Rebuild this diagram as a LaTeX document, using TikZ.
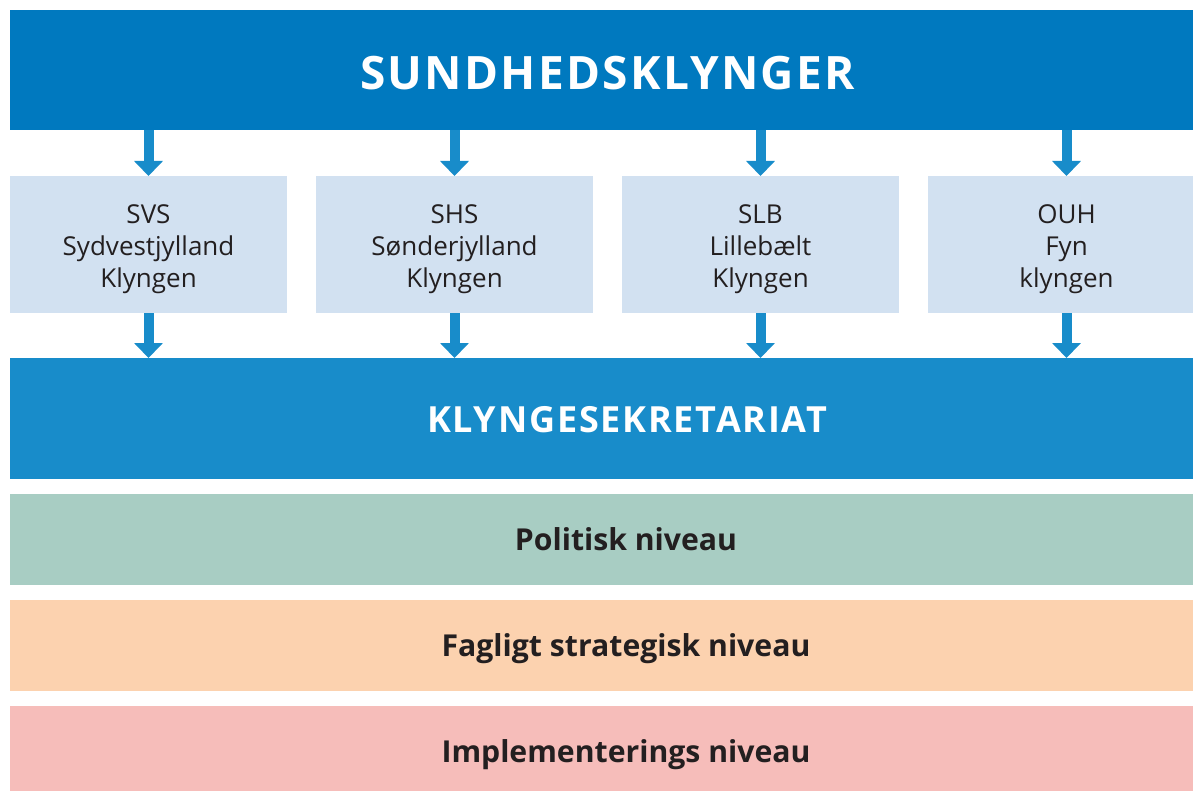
\documentclass[tikz,border=0pt]{standalone}
\usepackage{fontspec}
\setmainfont{Open Sans}
\newfontfamily\spacedfont{Open Sans}[LetterSpace=5]
\usetikzlibrary{arrows.meta,positioning}

\definecolor{topblue}{RGB}{0,121,191}
\definecolor{midblue}{RGB}{24,140,202}
\definecolor{paleblue}{RGB}{210,225,241}
\definecolor{levelgreen}{RGB}{168,205,195}
\definecolor{levelorange}{RGB}{252,210,175}
\definecolor{levelpink}{RGB}{246,189,186}
\definecolor{textdark}{RGB}{35,31,32}

\begin{document}
\begin{tikzpicture}[x=0.5pt,y=-0.5pt,
    every node/.style={inner sep=0pt, outer sep=0pt},
    header/.style={fill=#1, text=white, text depth=0pt},
    klynge/.style={fill=paleblue, text=textdark, align=center,
        minimum width=138.5pt, minimum height=68.5pt,
        text height=42.5pt, text depth=0pt,
        font=\fontsize{13}{16}\selectfont},
    level/.style={fill=#1, text=textdark, minimum width=616pt, minimum height=45.5pt,
        text height=11.2pt, text depth=0pt,
        font=\bfseries\fontsize{15.1}{18}\selectfont},
    flow/.style={draw=midblue, line width=5pt, -{Triangle[width=14pt,length=7.5pt]}}]

	\useasboundingbox (0,0) rectangle (1193,791);
	\clip (0,0) rectangle (1193,791);

	% top and secretariat bars
	\node[header=topblue, minimum width=597.5pt, minimum height=60pt, text height=19.4pt,
		font=\spacedfont\bfseries\fontsize{23}{27}\selectfont] (sund) at (607.5,70) {SUNDHEDSKLYNGER};
	\node[header=midblue, minimum width=617pt, minimum height=60.5pt, text height=14.3pt,
		font=\spacedfont\bfseries\fontsize{18}{22}\selectfont] (sek) at (627,418.5) {KLYNGESEKRETARIAT};

	% the four clusters
	\node[klynge] (svs) at (148.5,244.5) {SVS\\Sydvestjylland\\Klyngen};
	\node[klynge] (shs) at (454.5,244.5) {SHS\\Sønderjylland\\Klyngen};
	\node[klynge] (slb) at (760.5,244.5) {SLB\\Lillebælt\\Klyngen};
	\node[klynge] (ouh) at (1066.5,244.5) {OUH\\Fyn\\klyngen};

	\foreach \k in {svs,shs,slb,ouh}{
		\draw[flow] (sund.south -| \k.north) -- (\k.north);
		\draw[flow] (\k.south) -- (\k.south |- sek.north);
	}

	% levels
	\node[level=levelgreen] (pol) at (626,539.5) {Politisk niveau};
	\node[level=levelorange] (fag) at (626,645.5) {Fagligt strategisk niveau};
	\node[level=levelpink] (imp) at (626,751.5) {Implementerings niveau};
\end{tikzpicture}
\end{document}
